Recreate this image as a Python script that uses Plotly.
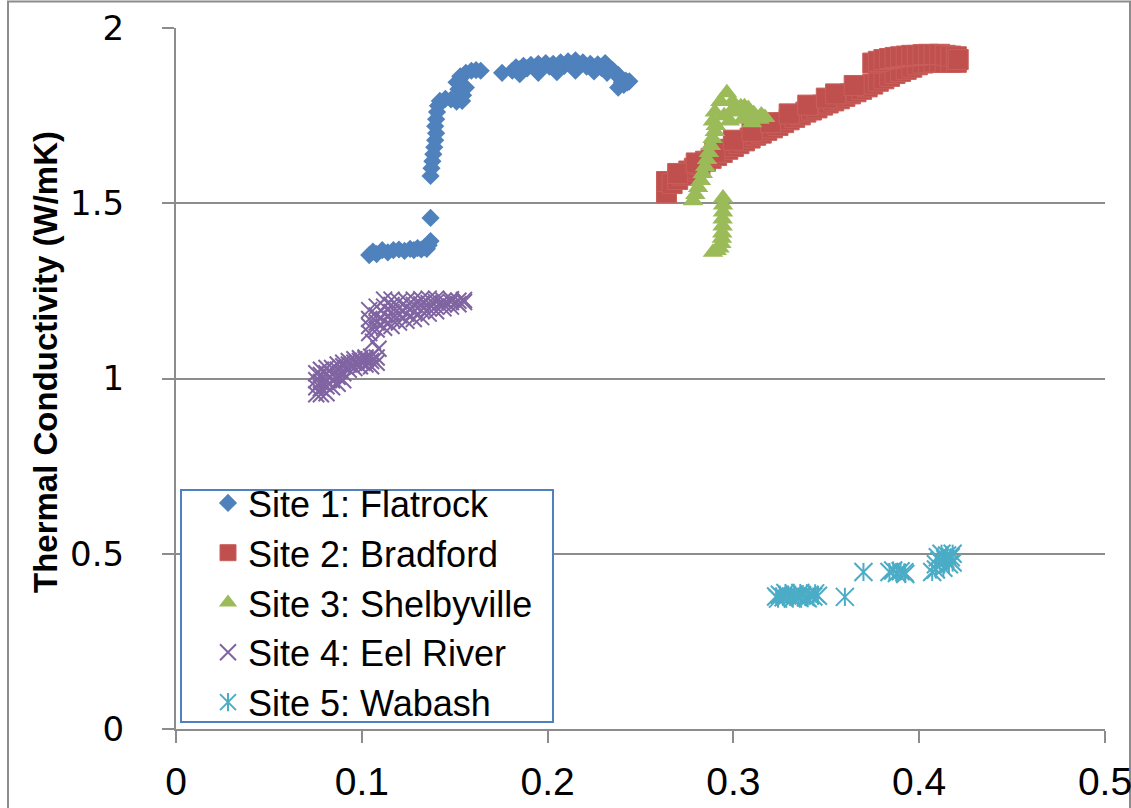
import plotly.graph_objects as go

# ---- Site 1: Flatrock ----
flatrock_x = [0.104, 0.106, 0.108, 0.111, 0.114, 0.117, 0.120, 0.123, 0.126, 0.128, 0.130, 0.132,
              0.134, 0.135, 0.136, 0.137,
              0.137,
              0.137, 0.1375, 0.138, 0.1385, 0.139, 0.1395, 0.140, 0.1395, 0.140, 0.1405, 0.141,
              0.142, 0.145, 0.148, 0.151, 0.154, 0.1545, 0.156,
              0.152, 0.151, 0.153, 0.156, 0.159, 0.1615, 0.164,
              0.1755,
              0.181, 0.183, 0.185, 0.187, 0.189, 0.191, 0.193, 0.195, 0.197, 0.199, 0.201, 0.203,
              0.205, 0.207, 0.209, 0.211, 0.213, 0.215, 0.217, 0.219, 0.221, 0.223, 0.225, 0.227,
              0.229, 0.231, 0.233, 0.235, 0.236, 0.238, 0.239, 0.240, 0.241, 0.242, 0.243, 0.244,
              0.185, 0.195, 0.205, 0.215, 0.225, 0.232, 0.238]
flatrock_y = [1.352, 1.362, 1.355, 1.366, 1.360, 1.366, 1.368, 1.364, 1.370, 1.366, 1.372, 1.368,
              1.374, 1.370, 1.380, 1.392,
              1.458,
              1.578, 1.600, 1.620, 1.640, 1.660, 1.680, 1.700, 1.720, 1.740, 1.760, 1.778,
              1.792, 1.798, 1.796, 1.790, 1.792, 1.808, 1.830,
              1.825, 1.845, 1.862, 1.872, 1.878, 1.880, 1.878,
              1.872,
              1.878, 1.888, 1.882, 1.892, 1.885, 1.895, 1.886, 1.898, 1.888, 1.900, 1.890, 1.898,
              1.888, 1.902, 1.892, 1.905, 1.895, 1.908, 1.896, 1.902, 1.890, 1.898, 1.888, 1.896,
              1.886, 1.900, 1.888, 1.880, 1.874, 1.866, 1.856, 1.845, 1.838, 1.850, 1.845, 1.848,
              1.868, 1.872, 1.874, 1.878, 1.876, 1.872, 1.830]

# ---- Site 2: Bradford ----
bradford_x = [0.264, 0.264, 0.267, 0.270, 0.273, 0.276, 0.279, 0.282, 0.285, 0.288, 0.291, 0.294,
              0.297, 0.300, 0.303, 0.306, 0.309, 0.312, 0.315, 0.318, 0.321, 0.324, 0.327, 0.330,
              0.333, 0.336, 0.339, 0.342, 0.345, 0.348, 0.351, 0.354, 0.357, 0.360, 0.363, 0.366,
              0.369, 0.372, 0.375, 0.378, 0.381, 0.384, 0.387, 0.390, 0.393, 0.396, 0.399, 0.402,
              0.405, 0.408, 0.411, 0.414, 0.417, 0.420,
              0.375, 0.378, 0.381, 0.384, 0.387, 0.390, 0.393, 0.396, 0.399, 0.402, 0.405, 0.408,
              0.411, 0.414, 0.417, 0.420, 0.421,
              0.270, 0.280, 0.290, 0.300, 0.310, 0.320, 0.330, 0.340, 0.350, 0.355, 0.365]
bradford_y = [1.530, 1.562, 1.556, 1.568, 1.580, 1.592, 1.600, 1.610, 1.620, 1.628, 1.636, 1.645,
              1.654, 1.662, 1.670, 1.678, 1.686, 1.694, 1.700, 1.708, 1.715, 1.722, 1.730, 1.738,
              1.745, 1.752, 1.760, 1.766, 1.772, 1.780, 1.786, 1.792, 1.798, 1.805, 1.812, 1.818,
              1.825, 1.832, 1.840, 1.848, 1.855, 1.862, 1.870, 1.876, 1.882, 1.888, 1.895, 1.900,
              1.902, 1.903, 1.903, 1.902, 1.902, 1.902,
              1.900, 1.905, 1.910, 1.913, 1.916, 1.918, 1.920, 1.922, 1.922, 1.924, 1.925, 1.924,
              1.925, 1.922, 1.920, 1.918, 1.910,
              1.585, 1.615, 1.645, 1.680, 1.705, 1.730, 1.755, 1.780, 1.800, 1.812, 1.836]

# ---- Site 3: Shelbyville ----
shelby_x = [0.2783, 0.2795, 0.2810, 0.2825, 0.2835, 0.2848, 0.2858, 0.2868, 0.2878, 0.2888, 0.2900, 0.2905,
            0.2965, 0.2930, 0.2900, 0.2890, 0.2950, 0.3000, 0.3040, 0.3080, 0.3110, 0.3140, 0.3100,
            0.3050, 0.2980, 0.3020, 0.3075, 0.2995, 0.3060, 0.3120, 0.3150, 0.3170,
            0.2944, 0.2944, 0.2944, 0.2942, 0.2942, 0.2940, 0.2938, 0.2935, 0.2925, 0.2910, 0.2890]
shelby_y = [1.507, 1.525, 1.545, 1.565, 1.585, 1.605, 1.625, 1.645, 1.665, 1.685, 1.705, 1.722,
            1.815, 1.790, 1.760, 1.735, 1.750, 1.770, 1.775, 1.770, 1.755, 1.740, 1.730,
            1.740, 1.735, 1.760, 1.752, 1.790, 1.775, 1.745, 1.752, 1.745,
            1.515, 1.495, 1.475, 1.455, 1.435, 1.415, 1.400, 1.385, 1.372, 1.365, 1.360]

# ---- Site 4: Eel River ----
eel_x = [0.0755, 0.0755, 0.0755, 0.0755,
         0.078, 0.078, 0.078, 0.078, 0.078,
         0.081, 0.081, 0.081, 0.081, 0.081,
         0.084, 0.084, 0.084, 0.084,
         0.087, 0.087, 0.087, 0.087,
         0.090, 0.090, 0.090, 0.090,
         0.093, 0.093, 0.093,
         0.096, 0.096, 0.096,
         0.099, 0.099, 0.099,
         0.102, 0.102, 0.102,
         0.105, 0.105, 0.105,
         0.108, 0.108,
         0.109, 0.106,
         0.104, 0.104, 0.104, 0.104,
         0.108, 0.108, 0.108, 0.108,
         0.112, 0.112, 0.112, 0.112, 0.112,
         0.116, 0.116, 0.116, 0.116, 0.116,
         0.120, 0.120, 0.120, 0.120,
         0.124, 0.124, 0.124, 0.124,
         0.128, 0.128, 0.128, 0.128,
         0.132, 0.132, 0.132, 0.132,
         0.136, 0.136, 0.136, 0.136,
         0.140, 0.140, 0.140, 0.140,
         0.144, 0.144, 0.144,
         0.148, 0.148, 0.148,
         0.152, 0.152,
         0.155, 0.155]
eel_y = [0.955, 0.975, 0.995, 1.015,
         0.955, 0.972, 0.990, 1.010, 1.025,
         0.958, 0.978, 0.995, 1.015, 1.030,
         0.975, 0.995, 1.012, 1.030,
         0.985, 1.005, 1.025, 1.040,
         0.995, 1.015, 1.035, 1.045,
         1.025, 1.040, 1.050,
         1.030, 1.045, 1.055,
         1.035, 1.050, 1.058,
         1.040, 1.055, 1.060,
         1.035, 1.050, 1.062,
         1.045, 1.060,
         1.085, 1.105,
         1.130, 1.150, 1.170, 1.195,
         1.140, 1.160, 1.180, 1.205,
         1.145, 1.165, 1.185, 1.205, 1.225,
         1.150, 1.170, 1.190, 1.210, 1.225,
         1.160, 1.180, 1.200, 1.220,
         1.165, 1.185, 1.205, 1.222,
         1.170, 1.190, 1.210, 1.225,
         1.175, 1.195, 1.212, 1.226,
         1.185, 1.200, 1.215, 1.228,
         1.192, 1.205, 1.218, 1.228,
         1.200, 1.212, 1.222,
         1.205, 1.218, 1.226,
         1.212, 1.222,
         1.218, 1.224]

# ---- Site 5: Wabash ----
wabash_x = [0.323, 0.325, 0.327, 0.329, 0.331, 0.333, 0.335, 0.337, 0.339, 0.341, 0.343, 0.3455,
            0.324, 0.328, 0.332, 0.336, 0.340, 0.344,
            0.360, 0.370,
            0.384, 0.386, 0.388, 0.390, 0.392, 0.3925,
            0.407,
            0.409, 0.410, 0.411, 0.412, 0.413, 0.414, 0.415, 0.416, 0.417, 0.418, 0.418, 0.409]
wabash_y = [0.378, 0.383, 0.376, 0.381, 0.378, 0.384, 0.377, 0.382, 0.376, 0.383, 0.378, 0.380,
            0.372, 0.388, 0.372, 0.388, 0.373, 0.387,
            0.377, 0.448,
            0.448, 0.452, 0.445, 0.450, 0.447, 0.442,
            0.448,
            0.470, 0.490, 0.480, 0.500, 0.460, 0.485, 0.495, 0.470, 0.490, 0.475, 0.500, 0.455]

site_names = ["Site 1: Flatrock", "Site 2: Bradford", "Site 3: Shelbyville",
              "Site 4: Eel River", "Site 5: Wabash"]
site_colors = ["#4F81BD", "#C0504D", "#9BBB59", "#8064A2", "#4BACC6"]

y_title = "Thermal Conductivity (W/mK)"
x_ticks = [0, 0.1, 0.2, 0.3, 0.4, 0.5]
x_tick_text = ["0", "0.1", "0.2", "0.3", "0.4", "0.5"]
y_ticks = [0, 0.5, 1, 1.5, 2]
y_tick_text = ["0", "0.5", "1", "1.5", "2"]

fig = go.Figure()

fig.add_trace(go.Scatter(x=flatrock_x, y=flatrock_y, mode="markers", name=site_names[0],
                         marker=dict(symbol="diamond", size=14, color=site_colors[0], line=dict(width=0))))
fig.add_trace(go.Scatter(x=bradford_x, y=bradford_y, mode="markers", name=site_names[1],
                         marker=dict(symbol="square", size=20, color=site_colors[1],
                                     line=dict(width=1, color="#C85F5C"))))
fig.add_trace(go.Scatter(x=shelby_x, y=shelby_y, mode="markers", name=site_names[2],
                         marker=dict(symbol="triangle-up", size=18, color=site_colors[2], line=dict(width=0))))
fig.add_trace(go.Scatter(x=eel_x, y=eel_y, mode="markers", name=site_names[3],
                         marker=dict(symbol="x-thin-open", size=16, color=site_colors[3],
                                     line=dict(width=2, color=site_colors[3]))))
# Wabash star: diagonal cross plus a vertical stroke
fig.add_trace(go.Scatter(x=wabash_x, y=wabash_y, mode="markers", name=site_names[4],
                         marker=dict(symbol="x-thin-open", size=18, color=site_colors[4],
                                     line=dict(width=2, color=site_colors[4]))))

# second legend, laid over the first, adds the vertical stroke to the Wabash key
for _ in range(4):
    fig.add_trace(go.Scatter(x=[None], y=[None], mode="markers", name=" ", legend="legend2",
                             marker=dict(color="rgba(0,0,0,0)", size=1), hoverinfo="skip"))
fig.add_trace(go.Scatter(x=wabash_x, y=wabash_y, mode="markers", name=" ", legend="legend2",
                         marker=dict(symbol="line-ns-open", size=13, color=site_colors[4],
                                     line=dict(width=2, color=site_colors[4]))))

L, R, T, B = 176, 26, 28, 79
W, H = 1131, 808
pw, ph = W - L - R, H - T - B


def px_x(p):
    return (p - L) / pw


def px_y(p):
    return (H - B - p) / ph


legend_font = dict(family="Liberation Sans, Arial, sans-serif", size=36)
legend_common = dict(
    x=px_x(180), y=px_y(473), xanchor="left", yanchor="top",
    borderwidth=0, indentation=28, itemsizing="trace",
    tracegroupgap=0, bgcolor="rgba(0,0,0,0)",
)

fig.update_layout(
    width=W, height=H,
    margin=dict(l=L, r=R, t=T, b=B),
    paper_bgcolor="white", plot_bgcolor="white",
    showlegend=True,
    legend=dict(**legend_common, font=dict(**legend_font, color="black")),
    legend2=dict(**legend_common, font=dict(**legend_font, color="rgba(0,0,0,0)")),
    xaxis=dict(range=[0, 0.5], tickvals=x_ticks, ticktext=x_tick_text, automargin=False,
               showgrid=False, zeroline=False, showline=True, linecolor="#8C8C8C", linewidth=2,
               ticks="outside", ticklen=12, tickwidth=2, tickcolor="#8C8C8C",
               tickfont=dict(family="Liberation Sans, Arial, sans-serif", size=39, color="black"),
               ticklabelstandoff=5, ticklabeloverflow="allow"),
    yaxis=dict(range=[0, 2], tickvals=y_ticks, ticktext=y_tick_text, automargin=False,
               showgrid=True, gridcolor="#8C8C8C", gridwidth=2, zeroline=False,
               showline=True, linecolor="#8C8C8C", linewidth=2,
               ticks="outside", ticklen=12, tickwidth=2, tickcolor="#8C8C8C",
               tickfont=dict(family="DejaVu Sans, sans-serif", size=34, color="black"),
               ticklabelstandoff=31, ticklabeloverflow="allow"),
    shapes=[
        # outer chart frame
        dict(type="rect", xref="paper", yref="paper",
             x0=px_x(8), x1=px_x(1130), y0=px_y(815), y1=px_y(1.5),
             line=dict(color="#8C8C8C", width=2), fillcolor="rgba(0,0,0,0)", layer="below"),
        # legend frame
        dict(type="rect", xref="paper", yref="paper",
             x0=px_x(181), x1=px_x(553), y0=px_y(722), y1=px_y(490),
             line=dict(color="#4F81BD", width=2), fillcolor="white", layer="above"),
    ],
    annotations=[dict(text=y_title, xref="paper", yref="paper", x=px_x(45), y=px_y(362),
                      xanchor="center", yanchor="middle", textangle=-90, showarrow=False,
                      font=dict(family="Liberation Sans, Arial, sans-serif", size=33, color="black",
                                weight="bold"))],
)

fig.write_html("out.html")
